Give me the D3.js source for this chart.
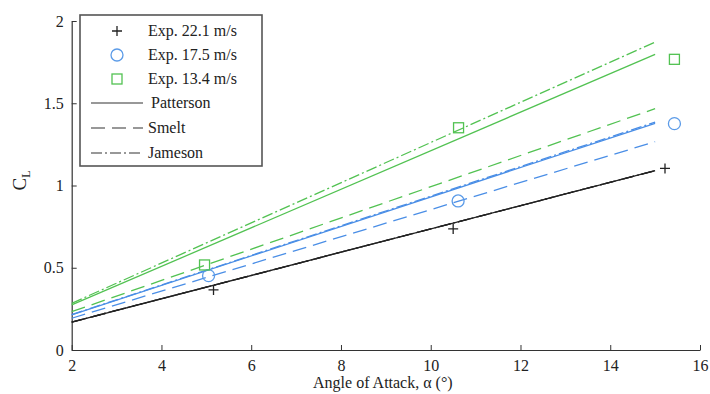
<!DOCTYPE html>
<meta charset="utf-8">
<script src="https://cdn.jsdelivr.net/npm/d3@7"></script>
<style>
  body { margin: 0; background: #fff; }
  text { font-family: "Liberation Serif", "DejaVu Serif", serif; fill: #222; }
</style>
<div id="my_dataviz"></div>
<script>
// model lines, evaluated at alpha = 2 and alpha = 15
var lineAlpha = [2, 15];
var speeds = ["22.1", "17.5", "13.4"];
var speedColors = ["#222222", "#4a8ee6", "#52c252"];
var patterson = [[0.17, 1.09], [0.213, 1.378], [0.274, 1.797]];
var smelt     = [[0.17, 1.09], [0.193, 1.266], [0.233, 1.467]];
var jameson   = [[0.17, 1.09], [0.215, 1.385], [0.284, 1.872]];

// experimental points
var exp221 = [[5.16, 0.365], [10.5, 0.736], [15.22, 1.104]];
var exp175 = [[5.05, 0.452], [10.61, 0.906], [15.43, 1.376]];
var exp134 = [[4.96, 0.517], [10.62, 1.351], [15.43, 1.767]];

var xTicks = [2, 4, 6, 8, 10, 12, 14, 16];
var yTicks = [0, 0.5, 1, 1.5, 2];

var margin = {top: 21, right: 10, bottom: 44, left: 71.7},
    width = 700 - margin.left,
    height = 350 - margin.top;

var svg = d3.select("#my_dataviz")
  .append("svg")
    .attr("width", 710)
    .attr("height", 394)
  .append("g")
    .attr("transform", "translate(" + margin.left + "," + margin.top + ")");

var x = d3.scaleLinear().domain([2, 16]).range([0, width]);
var y = d3.scaleLinear().domain([0, 2]).range([height, 0]);

// axes, ticks pointing inward
var xAxis = svg.append("g")
  .attr("transform", "translate(0," + height + ")")
  .call(d3.axisBottom(x).tickValues(xTicks).tickSize(-5).tickPadding(10).tickSizeOuter(0)
        .tickFormat(d3.format("d")));
var yAxis = svg.append("g")
  .call(d3.axisLeft(y).tickValues(yTicks).tickSize(-5).tickPadding(8).tickSizeOuter(0)
        .tickFormat(function(d) { return d; }));
[xAxis, yAxis].forEach(function(a) {
  a.select(".domain").attr("stroke", "#333").attr("stroke-width", 1.2);
  a.selectAll(".tick line").attr("stroke", "#333");
  a.selectAll("text").style("font-size", "16px").style("font-family", "Liberation Serif").attr("fill", "#222");
});

// model lines
var models = [
  {vals: patterson, dash: null},
  {vals: smelt, dash: "14,7"},
  {vals: jameson, dash: "11,3,2,3"}
];
var line = d3.line().x(function(d) { return x(d[0]); }).y(function(d) { return y(d[1]); });
models.forEach(function(m) {
  m.vals.forEach(function(v, i) {
    svg.append("path")
      .datum(lineAlpha.map(function(a, j) { return [a, v[j]]; }))
      .attr("fill", "none")
      .attr("stroke", speedColors[i])
      .attr("stroke-width", 1.3)
      .attr("stroke-dasharray", m.dash)
      .attr("d", line);
  });
});

// experimental markers
function plus(g, cx, cy, col) {
  g.append("path").attr("d", "M" + (cx - 5) + "," + cy + "H" + (cx + 5) + "M" + cx + "," + (cy - 5) + "V" + (cy + 5))
    .attr("stroke", col).attr("stroke-width", 1.3).attr("fill", "none");
}
function circ(g, cx, cy, col) {
  g.append("circle").attr("cx", cx).attr("cy", cy).attr("r", 6)
    .attr("stroke", col).attr("stroke-width", 1.3).attr("fill", "none");
}
function sq(g, cx, cy, col) {
  g.append("rect").attr("x", cx - 5).attr("y", cy - 5).attr("width", 10).attr("height", 10)
    .attr("stroke", col).attr("stroke-width", 1.3).attr("fill", "none");
}
exp221.forEach(function(d) { plus(svg, x(d[0]), y(d[1]), "#222"); });
exp175.forEach(function(d) { circ(svg, x(d[0]), y(d[1]), "#5b9be8"); });
exp134.forEach(function(d) { sq(svg, x(d[0]), y(d[1]), "#52c252"); });

// axis labels
svg.append("text")
  .attr("x", x(9) - 3).attr("y", height + 38)
  .attr("text-anchor", "middle")
  .style("font-size", "16px")
  .text("Angle of Attack, α (°)");
var yl = svg.append("text")
  .attr("transform", "translate(" + (-46) + "," + (height / 2 - 5) + ") rotate(-90)")
  .attr("text-anchor", "middle")
  .style("font-size", "19px");
yl.append("tspan").text("C");
yl.append("tspan").attr("dy", 4).style("font-size", "12px").text("L");

// legend
var leg = d3.select("svg").append("g");
leg.append("rect").attr("x", 80).attr("y", 15).attr("width", 182).attr("height", 151)
  .attr("fill", "#fff").attr("stroke", "#555").attr("stroke-width", 1.6);
var rowsY = [31, 55, 79, 103, 128, 153];
plus(leg, 117, rowsY[0], "#222");
circ(leg, 117, rowsY[1], "#5b9be8");
sq(leg, 117, rowsY[2], "#52c252");
speeds.forEach(function(s, i) {
  leg.append("text").attr("x", 148).attr("y", rowsY[i] + 5).style("font-size", "16px").text("Exp. " + s + " m/s");
});
var legNames = ["Patterson", "Smelt", "Jameson"];
models.forEach(function(m, i) {
  leg.append("line").attr("x1", 91).attr("x2", 143).attr("y1", rowsY[3 + i]).attr("y2", rowsY[3 + i])
    .attr("stroke", "#333").attr("stroke-width", 1.2).attr("stroke-dasharray", m.dash);
  leg.append("text").attr("x", i == 0 ? 151 : 148).attr("y", rowsY[3 + i] + 5).style("font-size", "16px").text(legNames[i]);
});
</script>
